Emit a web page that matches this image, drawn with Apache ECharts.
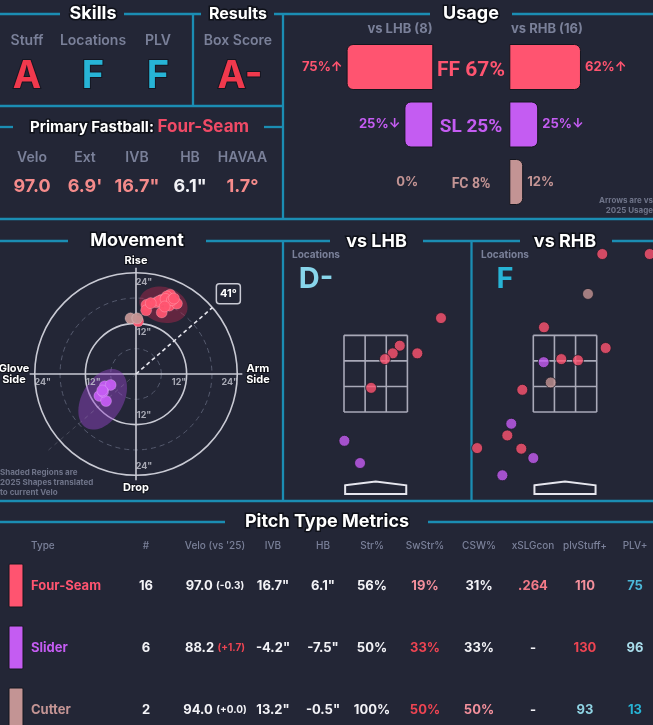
<!DOCTYPE html>
<html><head><meta charset="utf-8">
<script src="https://cdn.jsdelivr.net/npm/echarts@6/dist/echarts.min.js"></script>
<style>html,body{margin:0;padding:0;background:#232636;}#c{width:653px;height:725px;}</style>
</head><body><div id="c"></div><script>
// ---------------- DATA ----------------
const skillLabels = ['Stuff', 'Locations', 'PLV'];
const skillGrades = ['A', 'F', 'F'];
const resultLabels = ['Box Score'];
const resultGrades = ['A-'];
const fbPitch = 'Four-Seam';
const fbLabels = ['Velo', 'Ext', 'IVB', 'HB', 'HAVAA'];
const fbValues = ['97.0', "6.9'", '16.7"', '6.1"', '1.7°'];

const pitchCodes = ['FF', 'SL', 'FC'];
const pitchNames = ['Four-Seam', 'Slider', 'Cutter'];
const usageAll = [67, 25, 8];
const usageLHB = [75, 25, 0];
const usageRHB = [62, 25, 12];
const arrowLHB = ['↑', '↓', ''];
const arrowRHB = ['↑', '↓', ''];
const countLHB = 8;
const countRHB = 16;

// movement: [HB (arm side +), IVB] inches
const mvFF = [[2.5,16.4],[4.9,17.0],[6.1,17.6],[8.1,18.8],[7.3,18.4],[7.9,16.2],[9.7,16.7],[6.1,14.6],[2.4,15.1],[0.5,12.5],[5.5,17.3],[7.0,17.8],[8.5,17.5],[6.8,16.0],[3.5,16.8],[9.0,17.9]];
const mvSL = [[-7.4,-2.9],[-6.0,-2.6],[-8.7,-5.2],[-7.1,-6.4],[-7.8,-4.2],[-8.0,-3.9]];
const mvFC = [[-1.3,13.2],[0.3,13.2]];
// 2025 shapes: [centerHB, centerIVB, semiMajor, semiMinor, angleDeg]
const shapeFF = [6.5, 16.4, 5.8, 4.2, -15];
const shapeSL = [-7.9, -6.0, 7.8, 4.9, 60];
const rings = [6, 12, 18, 24];
const ringLabelRings = [12, 24];
const armAngle = 41;

// locations: [plate x ft, plate z ft]
const locGradeLHB = 'D-';
const locGradeRHB = 'F';
const lhbFF = [[1.71,3.95],[0.63,3.23],[0.445,3.03],[0.243,2.88],[1.09,3.03],[-0.12,2.13]];
const lhbSL = [[-0.82,0.75],[-0.41,0.17]];
const rhbFF = [[0.976,5.62],[2.217,5.62],[-0.55,3.71],[1.065,3.17],[-0.097,2.88],[0.34,2.85],[-1.118,2.08],[-1.51,0.89],[-2.30,0.56],[-1.144,0.543]];
const rhbSL = [[-0.558,2.80],[-1.406,1.195],[-0.83,0.30],[-1.64,-0.15]];
const rhbFC = [[0.602,4.58],[-0.374,2.27]];
const zoneX = [-0.83, 0.83];
const zoneZ = [1.5, 3.5];
const plateX = [-0.8, 0, 0.8, 0.8, -0.8];
const plateZ = [-0.41, -0.31, -0.41, -0.64, -0.64];

// table
const tblHeaders = ['Type', '#', "Velo (vs '25)", 'IVB', 'HB', 'Str%', 'SwStr%', 'CSW%', 'xSLGcon', 'plvStuff+', 'PLV+'];
const tblTypes = ['Four-Seam', 'Slider', 'Cutter'];
const tblCount = [16, 6, 2];
const tblVelo = [97.0, 88.2, 94.0];
const tblVeloDiff = ['-0.3', '+1.7', '+0.0'];
const tblIVB = [16.7, -4.2, 13.2];
const tblHB = [6.1, -7.5, -0.5];
const tblStr = [56, 50, 100];
const tblSwStr = [19, 33, 50];
const tblCSW = [31, 33, 50];
const tblXSLG = ['.264', '-', '-'];
const tblStuff = [110, 130, 93];
const tblPLV = [75, 96, 13];

// ---------------- STYLE ----------------
const F = "Inter, 'Noto Sans', sans-serif";
const F2 = "Roboto, 'Noto Sans', sans-serif";
const BG = '#232636';
const TEAL = '#1b8db3';
const GRAY = '#7a8099';
const WHITE = '#f2f2f6';
const PC = { FF: '#ff5470', SL: '#c45cf2', FC: '#c39494' };
const RED = '#ee4452', PINK = '#f4909c', SALMON = '#f58b8b', CYAN = '#27b4d6', LCYAN = '#8fd3e3';
const gradeColor = g => g.startsWith('A') ? '#f0394d' : (g === 'F' ? CYAN : '#88d5eb');
const cellColor = {
  veloDiff: [WHITE, RED, WHITE],
  swstr: [PINK, RED, RED],
  csw: [WHITE, WHITE, PINK],
  xslg: ['#f27a88', WHITE, WHITE],
  stuff: [PINK, RED, LCYAN],
  plv: ['#4cb8d8', '#a8dcea', CYAN]
};

function T(text, x, y, size, color, opt) {
  opt = opt || {};
  const a = opt.a || 'center';
  const st = { text: text, x: 0, y: 0, fill: color, font: (opt.w || 'bold') + ' ' + size + 'px ' + (opt.f || F),
    textAlign: a, align: a, textVerticalAlign: 'middle', verticalAlign: 'middle' };
  if (opt.stroke) { st.stroke = opt.stroke; st.lineWidth = opt.lw || 3; }
  return { type: 'text', x: x, y: y, z: 10, silent: true, style: st };
}
function TITLE(text, x, y, size) { return T(text, x, y, size || 18, '#ffffff', { stroke: '#0f1119', lw: 3 }); }
function L(x1, y1, x2, y2) {
  return { type: 'line', z: 1, silent: true, shape: { x1, y1, x2, y2 }, style: { stroke: TEAL, lineWidth: 2.3 } };
}

const els = [];
// panel lines
[[0,14,60,14],[124,14,201,14],[274,14,430,14],[512,14,653,14],
 [193,14,193,106],[283,14,283,219],[0,106,283,106],
 [0,127,13,127],[264,127,283,127],[0,219,653,219],
 [0,241,68,241],[206,241,330,241],[423,241,520,241],[612,241,653,241],
 [283,241,283,501],[471.5,241,471.5,501],[0,501,653,501],
 [0,522,225,522],[428,522,653,522]].forEach(s => els.push(L(s[0], s[1], s[2], s[3])));

// titles
els.push(TITLE('Skills', 93, 14, 18));
els.push(TITLE('Results', 238, 14, 16));
els.push(TITLE('Usage', 471, 14, 18));
els.push(TITLE('Movement', 137, 241, 18));
els.push(TITLE('vs LHB', 376.5, 242, 18));
els.push(TITLE('vs RHB', 565, 242, 18));
els.push(TITLE('Pitch Type Metrics', 327, 522, 18));
els.push({ type: 'text', x: 139.5, y: 127, z: 10, silent: true, style: {
  text: '{a|Primary Fastball: }{b|' + fbPitch + '}', x: 0, y: 0, textAlign: 'center', align: 'center', textVerticalAlign: 'middle', verticalAlign: 'middle',
  rich: { a: { fill: '#ffffff', font: 'bold 15px ' + F, stroke: '#0f1119', lineWidth: 3 },
          b: { fill: '#f04a66', font: 'bold 17px ' + F } } } });

// skills
const skillX = [27, 93, 158];
skillLabels.forEach((s, i) => {
  els.push(T(s, skillX[i], 41, 14, GRAY, { w: '600' }));
  els.push(T(skillGrades[i], skillX[i], 77, 38, gradeColor(skillGrades[i]), { stroke: '#151722', lw: 2 }));
});
resultLabels.forEach((s, i) => {
  els.push(T(s, 238, 41, 14, GRAY, { w: '600' }));
  els.push(T(resultGrades[i], 240, 77, 38, gradeColor(resultGrades[i]), { stroke: '#151722', lw: 2 }));
});
const fbX = [32, 85, 137, 190, 242.5];
fbLabels.forEach((s, i) => {
  els.push(T(s, fbX[i], 158, 14, GRAY, { w: '600' }));
  els.push(T(fbValues[i], fbX[i], 186.5, 18, s === 'HB' ? WHITE : SALMON, {}));
});

// usage texts
els.push(T('vs LHB (' + countLHB + ')', 400, 29, 13, GRAY, {}));
els.push(T('vs RHB (' + countRHB + ')', 547, 29, 13, GRAY, {}));
const usageCenterSize = [21, 19, 14];
const usageCenterY = [70.5, 127.5, 184];
pitchCodes.forEach((c, i) => {
  els.push(T(c + ' ' + usageAll[i] + '%', 471, usageCenterY[i], usageCenterSize[i], PC[c], { f: F2 }));
});
els.push(T('Arrows are vs', 653, 201, 8, '#6f7489', { a: 'right' }));
els.push(T('2025 Usage', 653, 211, 8, '#6f7489', { a: 'right' }));

// movement axis labels & note
els.push(T('Rise', 136, 261, 11, '#ffffff', { stroke: '#0f1119', lw: 2 }));
els.push(T('Drop', 136, 488, 11, '#ffffff', { stroke: '#0f1119', lw: 2 }));
els.push(T('Glove\nSide', 14, 374, 11, '#ffffff', { stroke: '#0f1119', lw: 2 }));
els.push(T('Arm\nSide', 258, 374, 11, '#ffffff', { stroke: '#0f1119', lw: 2 }));
['Shaded Regions are', '2025 Shapes translated', 'to current Velo'].forEach((s, i) =>
  els.push(T(s, 0, 473 + i * 10, 8, '#6f7489', { a: 'left' })));

// locations labels
els.push(T('Locations', 316, 255, 10, GRAY, {}));
els.push(T(locGradeLHB, 316, 279, 29, gradeColor(locGradeLHB), {}));
els.push(T('Locations', 505, 255, 10, GRAY, {}));
els.push(T(locGradeRHB, 505, 279, 29, gradeColor(locGradeRHB), {}));

// table
const colX = [31, 146, 215, 273, 323, 372, 425, 479, 533, 585, 635];
tblHeaders.forEach((h, j) => els.push(T(h, colX[j], 546, 10, GRAY, { w: '500', a: j === 0 ? 'left' : 'center' })));
const rowY = [586, 648, 710];
tblTypes.forEach((t, i) => {
  const y = rowY[i];
  const col = PC[pitchCodes[i]];
  els.push({ type: 'rect', z: 5, silent: true, shape: { x: 9, y: y - 22, width: 14, height: 43, r: 1 }, style: { fill: col, stroke: '#14161f', lineWidth: 1 } });
  els.push(T(t, colX[0], y, 13, col, { a: 'left' }));
  els.push(T(String(tblCount[i]), colX[1], y, 13, WHITE, {}));
  els.push({ type: 'text', x: colX[2], y: y, z: 10, silent: true, style: {
    text: '{a|' + tblVelo[i].toFixed(1) + '} {b|(' + tblVeloDiff[i] + ')}', x: 0, y: 0,
    textAlign: 'center', align: 'center', textVerticalAlign: 'middle', verticalAlign: 'middle',
    rich: { a: { fill: WHITE, font: 'bold 13px ' + F }, b: { fill: cellColor.veloDiff[i], font: 'bold 10px ' + F } } } });
  els.push(T(tblIVB[i].toFixed(1) + '"', colX[3], y, 13, WHITE, {}));
  els.push(T(tblHB[i].toFixed(1) + '"', colX[4], y, 13, WHITE, {}));
  els.push(T(tblStr[i] + '%', colX[5], y, 13, WHITE, {}));
  els.push(T(tblSwStr[i] + '%', colX[6], y, 13, cellColor.swstr[i], {}));
  els.push(T(tblCSW[i] + '%', colX[7], y, 13, cellColor.csw[i], {}));
  els.push(T(tblXSLG[i], colX[8], y, 13, cellColor.xslg[i], {}));
  els.push(T(String(tblStuff[i]), colX[9], y, 13, cellColor.stuff[i], {}));
  els.push(T(String(tblPLV[i]), colX[10], y, 13, cellColor.plv[i], {}));
});

// ---------------- SERIES ----------------
const series = [];
// movement rings
series.push({ type: 'custom', xAxisIndex: 0, yAxisIndex: 0, silent: true, z: 1, clip: false,
  data: rings.map(r => [r, 0]),
  renderItem: (p, api) => {
    const r = api.value(0);
    const c = api.coord([0, 0]);
    const e = api.coord([r, 0]);
    const solid = r % 12 === 0;
    return { type: 'circle', shape: { cx: c[0], cy: c[1], r: e[0] - c[0] },
      style: { fill: 'none', stroke: solid ? '#c9cad4' : '#555a6e', lineWidth: solid ? 1.6 : 1, lineDash: solid ? null : [5, 4] } };
  } });
// cross axes
series.push({ type: 'custom', xAxisIndex: 0, yAxisIndex: 0, silent: true, z: 1, clip: false,
  data: [[-25.2, 0, 25.2, 0], [0, -25.2, 0, 25.2]],
  renderItem: (p, api) => {
    const a = api.coord([api.value(0), api.value(1)]);
    const b = api.coord([api.value(2), api.value(3)]);
    return { type: 'line', shape: { x1: a[0], y1: a[1], x2: b[0], y2: b[1] }, style: { stroke: '#c9cad4', lineWidth: 1.6 } };
  } });
// 2025 shapes
series.push({ type: 'custom', xAxisIndex: 0, yAxisIndex: 0, silent: true, z: 2, clip: false,
  data: [shapeFF.concat([0]), shapeSL.concat([1])],
  renderItem: (p, api) => {
    const cx = api.value(0), cy = api.value(1), a = api.value(2), b = api.value(3), t = api.value(4) * Math.PI / 180;
    const pts = [];
    for (let k = 0; k < 60; k++) {
      const u = k / 60 * Math.PI * 2;
      const x = a * Math.cos(u), y = b * Math.sin(u);
      pts.push(api.coord([cx + x * Math.cos(t) - y * Math.sin(t), cy + x * Math.sin(t) + y * Math.cos(t)]));
    }
    const fills = ['rgba(175,40,78,0.45)', 'rgba(150,70,205,0.45)'];
    return { type: 'polygon', shape: { points: pts }, style: { fill: fills[api.value(5)] } };
  } });
// arm angle
series.push({ type: 'custom', xAxisIndex: 0, yAxisIndex: 0, silent: true, z: 3, clip: false,
  data: [[armAngle]],
  renderItem: (p, api) => {
    const ang = api.value(0);
    const a = ang * Math.PI / 180;
    const c = api.coord([0, 0]);
    const e = api.coord([24 * Math.cos(a), 24 * Math.sin(a)]);
    const o = api.coord([-28 * Math.cos(a), -28 * Math.sin(a)]);
    const b = api.coord([29 * Math.cos(a), 29 * Math.sin(a)]);
    return { type: 'group', children: [
      { type: 'line', shape: { x1: c[0], y1: c[1], x2: o[0], y2: o[1] }, style: { stroke: 'rgba(200,200,215,0.22)', lineWidth: 1, lineDash: [4, 4] } },
      { type: 'line', shape: { x1: c[0], y1: c[1], x2: e[0], y2: e[1] }, style: { stroke: '#e6e6ee', lineWidth: 1.6, lineDash: [4, 3] } },
      { type: 'rect', shape: { x: b[0] - 12, y: b[1] - 10, width: 24, height: 20, r: 3 }, style: { fill: BG, stroke: '#c9cad4', lineWidth: 1.5 } },
      { type: 'text', x: b[0], y: b[1], style: { text: ang + '°', x: 0, y: 0, fill: '#ffffff', font: 'bold 11px ' + F,
        textAlign: 'center', align: 'center', textVerticalAlign: 'middle', verticalAlign: 'middle' } }
    ] };
  } });
// ring labels
const ringLabelData = [];
ringLabelRings.forEach(r => {
  const n = r + '"';
  ringLabelData.push({ name: n, value: [1.9, r - 2.2] }, { name: n, value: [1.9, -(r - 2.2)] },
                     { name: n, value: [-(r - 1.9), -1.9] }, { name: n, value: [r - 1.8, -1.9] });
});
series.push({ type: 'scatter', xAxisIndex: 0, yAxisIndex: 0, silent: true, z: 3, symbolSize: 0,
  itemStyle: { color: 'transparent' }, data: ringLabelData,
  label: { show: true, position: 'inside', formatter: '{b}', color: '#c9cad4', fontSize: 9, fontWeight: 'bold', fontFamily: F } });
// movement points
function mvScatter(data, code) {
  return { type: 'scatter', xAxisIndex: 0, yAxisIndex: 0, z: 4, symbolSize: 11, data: data,
    itemStyle: { color: PC[code], opacity: 0.95, borderColor: 'rgba(255,255,255,0.22)', borderWidth: 1 } };
}
series.push(mvScatter(mvFF, 'FF'), mvScatter(mvFC, 'FC'), mvScatter(mvSL, 'SL'));

// usage bars
function usageBar(vals, arrows, idx, side) {
  return { type: 'bar', xAxisIndex: idx, yAxisIndex: idx, barWidth: 46, silent: true,
    data: vals.map((v, i) => ({ value: v,
      itemStyle: { color: PC[pitchCodes[i]], borderColor: '#14161f', borderWidth: v > 0 ? 1 : 0,
        borderRadius: side === 'left' ? [6, 0, 0, 6] : [0, 6, 6, 0] },
      label: { color: PC[pitchCodes[i]], distance: v > 0 ? 4 : 15 } })),
    label: { show: true, position: side, distance: 4, fontSize: 13, fontWeight: 'bold', fontFamily: F,
      formatter: p => p.value + '%' + arrows[p.dataIndex] } };
}
series.push(usageBar(usageLHB, arrowLHB, 1, 'left'), usageBar(usageRHB, arrowRHB, 2, 'right'));

// locations
function zoneSeries(idx) {
  return { type: 'custom', xAxisIndex: idx, yAxisIndex: idx, silent: true, z: 2, clip: false, data: [[0, 0]],
    renderItem: (p, api) => {
      const ch = [];
      const st = { stroke: '#a9a9b8', lineWidth: 1.6 };
      for (let k = 0; k <= 3; k++) {
        const x = zoneX[0] + (zoneX[1] - zoneX[0]) * k / 3;
        const a = api.coord([x, zoneZ[0]]), b = api.coord([x, zoneZ[1]]);
        ch.push({ type: 'line', shape: { x1: a[0], y1: a[1], x2: b[0], y2: b[1] }, style: st });
        const z = zoneZ[0] + (zoneZ[1] - zoneZ[0]) * k / 3;
        const c = api.coord([zoneX[0], z]), d = api.coord([zoneX[1], z]);
        ch.push({ type: 'line', shape: { x1: c[0], y1: c[1], x2: d[0], y2: d[1] }, style: st });
      }
      const pts = plateX.map((x, i) => api.coord([x, plateZ[i]]));
      ch.push({ type: 'polygon', shape: { points: pts }, style: { fill: 'none', stroke: '#e6e6ee', lineWidth: 2 } });
      return { type: 'group', children: ch };
    } };
}
series.push(zoneSeries(3), zoneSeries(4));
function locScatter(data, code, idx) {
  return { type: 'scatter', xAxisIndex: idx, yAxisIndex: idx, z: 4, symbolSize: 11, clip: true, data: data,
    itemStyle: { color: PC[code], borderColor: '#1a1c28', borderWidth: 1 } };
}
series.push(locScatter(lhbFF, 'FF', 3), locScatter(lhbSL, 'SL', 3));
series.push(locScatter(rhbFF, 'FF', 4), locScatter(rhbFC, 'FC', 4), locScatter(rhbSL, 'SL', 4));

const option = {
  backgroundColor: BG,
  animation: false,
  grid: [
    { left: 28.4, top: 266.4, width: 215.2, height: 215.2 },
    { left: 317.7, top: 38.25, width: 115.6, height: 172.5 },
    { left: 509.3, top: 38.25, width: 115.6, height: 172.5 },
    { left: 287.7, top: 241, width: 176, height: 260 },
    { left: 477, top: 241, width: 176, height: 260 }
  ],
  xAxis: [
    { type: 'value', gridIndex: 0, min: -25.5, max: 25.5, show: false },
    { type: 'value', gridIndex: 1, min: 0, max: 100, inverse: true, show: false },
    { type: 'value', gridIndex: 2, min: 0, max: 100, show: false },
    { type: 'value', gridIndex: 3, min: -2.304, max: 2.304, show: false },
    { type: 'value', gridIndex: 4, min: -2.304, max: 2.304, show: false }
  ],
  yAxis: [
    { type: 'value', gridIndex: 0, min: -25.5, max: 25.5, show: false },
    { type: 'category', gridIndex: 1, data: pitchCodes, inverse: true, show: false },
    { type: 'category', gridIndex: 2, data: pitchCodes, inverse: true, show: false },
    { type: 'value', gridIndex: 3, min: -0.82, max: 5.96, show: false },
    { type: 'value', gridIndex: 4, min: -0.82, max: 5.96, show: false }
  ],
  graphic: { elements: els },
  series: series
};
const chart = echarts.init(document.getElementById('c'), null, { renderer: 'canvas' });
chart.setOption(option);
</script></body></html>
